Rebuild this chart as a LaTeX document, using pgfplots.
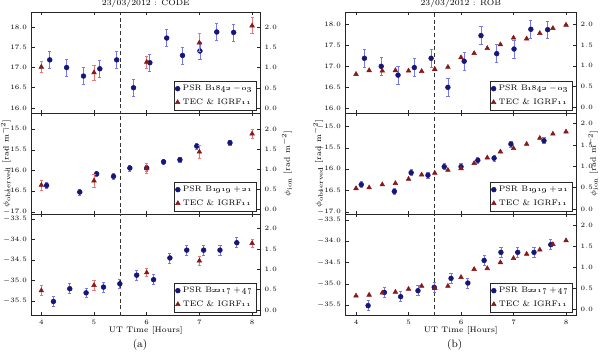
\documentclass[border=0pt]{standalone}
\usepackage{pgfplots}
\usepackage{pgfplotstable}
\pgfplotsset{compat=1.18}

\definecolor{psrblue}{RGB}{22,22,120}
\definecolor{psrerr}{RGB}{120,120,235}
\definecolor{tecred}{RGB}{135,25,25}
\definecolor{tecerr}{RGB}{235,120,120}

% observed values (same pulsar data in both columns)
\pgfplotstableread{
h v e
4.16 17.19 0.21
4.48 17.00 0.21
4.80 16.79 0.21
5.11 16.97 0.21
5.43 17.19 0.21
5.75 16.50 0.21
6.06 17.12 0.21
6.38 17.73 0.21
6.68 17.30 0.21
7.01 17.41 0.21
7.33 17.88 0.21
7.65 17.87 0.21
}\bluetop
\pgfplotstableread{
h v e
4.10 -16.36 0.07
4.73 -16.52 0.07
5.05 -16.08 0.07
5.37 -16.14 0.07
5.68 -15.94 0.07
6.00 -15.94 0.07
6.32 -15.79 0.07
6.63 -15.74 0.07
6.95 -15.41 0.07
7.58 -15.33 0.07
}\bluemid
\pgfplotstableread{
h v e
4.23 -35.51 0.12
4.54 -35.20 0.12
4.85 -35.30 0.12
5.18 -35.16 0.12
5.49 -35.08 0.12
5.81 -34.87 0.12
6.13 -34.98 0.12
6.44 -34.45 0.12
6.76 -34.26 0.12
7.08 -34.26 0.12
7.39 -34.26 0.12
7.71 -34.08 0.12
}\bluebot

% ionospheric RM, CODE
\pgfplotstableread{
h v e
4 1.02 0.13
5 0.88 0.19
6 1.14 0.15
7 1.62 0.22
8 2.04 0.20
}\codetop
\pgfplotstableread{
h v e
4 0.60 0.12
5 0.71 0.17
6 1.02 0.12
7 1.43 0.17
8 1.88 0.12
}\codemid
\pgfplotstableread{
h v e
4 0.48 0.12
5 0.61 0.13
6 0.92 0.10
7 1.21 0.12
8 1.64 0.10
}\codebot

% ionospheric RM, ROB
\pgfplotstableread{
h top mid bot
4.00 0.80 0.48 0.32
4.25 0.89 0.50 0.34
4.50 0.88 0.57 0.39
4.75 0.89 0.60 0.41
5.00 0.88 0.70 0.48
5.25 0.87 0.80 0.55
5.50 0.92 0.84 0.50
5.75 0.97 0.91 0.55
6.00 1.20 0.95 0.76
6.25 1.30 1.07 0.95
6.50 1.42 1.20 0.97
6.75 1.51 1.34 1.11
7.00 1.67 1.42 1.21
7.25 1.65 1.52 1.31
7.50 1.78 1.66 1.41
7.75 1.90 1.76 1.54
8.00 1.98 1.81 1.63
}\rob

\pgfplotsset{
  base/.style={scale only axis, height=75.75pt, tick align=inside,
    major tick length=2.5pt,
    axis line style={black!85, line width=0.5pt},
    every tick/.style={black!85, line width=0.4pt},
    tick label style={font=\fontsize{5}{6}\selectfont},
    label style={font=\fontsize{6}{7}\selectfont},
    yticklabel style={/pgf/number format/.cd, fixed, fixed zerofill, precision=1},
    ytick distance=0.5, xtick={4,5,6,7,8},
    xlabel shift=-5pt},
  lcol/.style={base, width=171.2pt, xmin=3.818, xmax=8.15},
  rcol/.style={base, width=172.7pt, xmin=3.804, xmax=8.19},
  main/.style={ytick pos=left, xtick pos=both},
  nox/.style={xticklabels={}},
  twin/.style={axis y line*=right, axis x line=none, ytick pos=right,
    legend style={draw=black!85, at={(0.985,0.025)}, anchor=south east,
      font=\fontsize{6}{7}\selectfont, inner sep=1pt, row sep=0.5pt},
    legend cell align=left},
  ylab/.style={ylabel style={at={(rel axis cs:#1,0.5)}, anchor=center}},
  blmark/.style={only marks, mark=*, mark size=1.8pt, psrblue},
  bl/.style={blmark, error bars/.cd, y dir=both, y explicit,
    error bar style={psrerr, line width=0.6pt},
    error mark options={psrerr, rotate=90, mark size=1.2pt, line width=0.5pt}},
  rdmark/.style={only marks, mark=triangle*, mark size=2pt, tecred},
  rd/.style={rdmark, error bars/.cd, y dir=both, y explicit,
    error bar style={tecerr, line width=0.6pt},
    error mark options={tecerr, rotate=90, mark size=1.2pt, line width=0.5pt}},
  dline/.style={black!80, dash pattern=on 3pt off 2pt, line width=0.5pt, forget plot},
  ttl/.style={title style={font=\fontsize{6}{7}\selectfont, yshift=-6.5pt}},
}

\begin{document}
\begin{tikzpicture}
\path[use as bounding box] (0,0) rectangle (450pt,263.25pt);

% ---------- left column (CODE) ----------
\begin{axis}[lcol, main, nox, ttl, at={(23.8pt,178.5pt)}, ymin=15.875, ymax=18.375,
  title={23/03/2012 : CODE}]
\addplot[dline] coordinates {(5.5,15) (5.5,19)};
\addplot[bl] table[x=h, y=v, y error=e] {\bluetop};
\end{axis}
\begin{axis}[lcol, twin, at={(23.8pt,178.5pt)}, ymin=-0.12, ymax=2.38]
\addlegendimage{blmark}
\addlegendentry{PSR B\oldstylenums{1842}$\,-\,$\oldstylenums{03}}
\addplot[rd] table[x=h, y=v, y error=e] {\codetop};
\addlegendentry{TEC \& IGRF\oldstylenums{11}}
\end{axis}

\begin{axis}[lcol, main, nox, at={(23.8pt,102.75pt)}, ymin=-17.05, ymax=-14.61,
  ylabel={$\phi_{\mathrm{observed}}$ [rad m$^{-2}$]}, ylab=-0.114]
\addplot[dline] coordinates {(5.5,-18) (5.5,-14)};
\addplot[bl] table[x=h, y=v, y error=e] {\bluemid};
\end{axis}
\begin{axis}[lcol, twin, at={(23.8pt,102.75pt)}, ymin=-0.12, ymax=2.40,
  ylabel={$\phi_{\mathrm{ion}}$ [rad m$^{-2}$]}, ylab=1.118]
\addlegendimage{blmark}
\addlegendentry{PSR B\oldstylenums{1919}$\,+\,$\oldstylenums{21}}
\addplot[rd] table[x=h, y=v, y error=e] {\codemid};
\addlegendentry{TEC \& IGRF\oldstylenums{11}}
\end{axis}

\begin{axis}[lcol, main, at={(23.8pt,27pt)}, ymin=-35.84, ymax=-33.38,
  xlabel={UT Time [Hours]}]
\addplot[dline] coordinates {(5.5,-37) (5.5,-33)};
\addplot[bl] table[x=h, y=v, y error=e] {\bluebot};
\end{axis}
\begin{axis}[lcol, twin, at={(23.8pt,27pt)}, ymin=-0.12, ymax=2.36]
\addlegendimage{blmark}
\addlegendentry{PSR B\oldstylenums{2217}$\,+\,$\oldstylenums{47}}
\addplot[rd] table[x=h, y=v, y error=e] {\codebot};
\addlegendentry{TEC \& IGRF\oldstylenums{11}}
\end{axis}

% ---------- right column (ROB) ----------
\begin{axis}[rcol, main, nox, ttl, at={(259.3pt,178.5pt)}, ymin=15.89, ymax=18.29,
  title={23/03/2012 : ROB}]
\addplot[dline] coordinates {(5.5,15) (5.5,19)};
\addplot[bl] table[x=h, y=v, y error=e] {\bluetop};
\end{axis}
\begin{axis}[rcol, twin, at={(259.3pt,178.5pt)}, ymin=-0.13, ymax=2.29]
\addlegendimage{blmark}
\addlegendentry{PSR B\oldstylenums{1842}$\,-\,$\oldstylenums{03}}
\addplot[rdmark] table[x=h, y=top] {\rob};
\addlegendentry{TEC \& IGRF\oldstylenums{11}}
\end{axis}

\begin{axis}[rcol, main, nox, at={(259.3pt,102.75pt)}, ymin=-17.05, ymax=-14.68,
  ylabel={$\phi_{\mathrm{observed}}$ [rad m$^{-2}$]}, ylab=-0.12]
\addplot[dline] coordinates {(5.5,-18) (5.5,-14)};
\addplot[bl] table[x=h, y=v, y error=e] {\bluemid};
\end{axis}
\begin{axis}[rcol, twin, at={(259.3pt,102.75pt)}, ymin=-0.12, ymax=2.25,
  ylabel={$\phi_{\mathrm{ion}}$ [rad m$^{-2}$]}, ylab=1.074]
\addlegendimage{blmark}
\addlegendentry{PSR B\oldstylenums{1919}$\,+\,$\oldstylenums{21}}
\addplot[rdmark] table[x=h, y=mid] {\rob};
\addlegendentry{TEC \& IGRF\oldstylenums{11}}
\end{axis}

\begin{axis}[rcol, main, at={(259.3pt,27pt)}, ymin=-35.73, ymax=-33.36,
  xlabel={UT Time [Hours]}]
\addplot[dline] coordinates {(5.5,-37) (5.5,-33)};
\addplot[bl] table[x=h, y=v, y error=e] {\bluebot};
\end{axis}
\begin{axis}[rcol, twin, at={(259.3pt,27pt)}, ymin=-0.135, ymax=2.26]
\addlegendimage{blmark}
\addlegendentry{PSR B\oldstylenums{2217}$\,+\,$\oldstylenums{47}}
\addplot[rdmark] table[x=h, y=bot] {\rob};
\addlegendentry{TEC \& IGRF\oldstylenums{11}}
\end{axis}

\node[font=\fontsize{8}{9}\selectfont] at (105pt,4.5pt) {(a)};
\node[font=\fontsize{8}{9}\selectfont] at (341pt,4.5pt) {(b)};
\end{tikzpicture}
\end{document}
